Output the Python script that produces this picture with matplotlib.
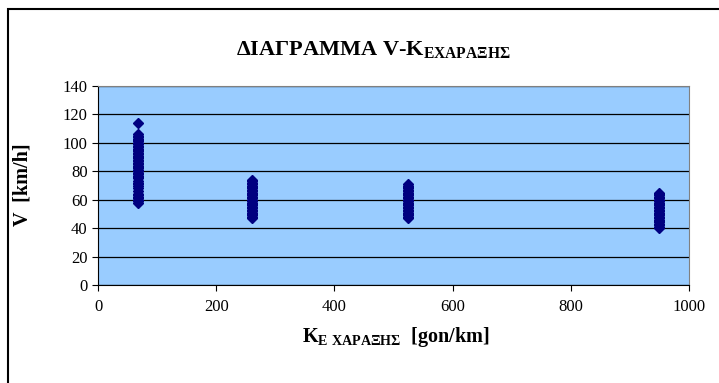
import matplotlib.pyplot as plt
from matplotlib.patches import Rectangle

# K values of the four curve groups and the measured speeds at each
k_vals = [68, 260, 525, 950]
v_k1 = [58, 59, 60, 61, 62, 63, 64, 66, 68, 70, 71, 72, 73, 75, 76, 77, 78, 79, 80,
        81, 82, 83, 84, 85, 86, 87, 88, 89, 90, 91, 92, 93, 94, 95, 96, 97, 98, 99,
        100, 101, 102, 103, 104, 105, 106, 114]
v_k2 = [47, 48, 49, 50, 51, 52, 53, 54, 55, 56, 57, 58, 59, 60, 61, 62, 63, 64, 65,
        66, 67, 68, 69, 70, 71, 72, 73, 74]
v_k3 = [47, 48, 49, 50, 51, 52, 53, 54, 55, 56, 57, 58, 59, 60, 61, 62, 63, 64, 65,
        66, 67, 68, 69, 70, 71]
v_k4 = [40, 41, 42, 43, 44, 45, 46, 47, 48, 49, 50, 51, 52, 53, 54, 55, 56, 57, 58,
        59, 60, 61, 62, 63, 64, 65]
groups = [v_k1, v_k2, v_k3, v_k4]

plt.rcParams['font.family'] = ['Liberation Serif', 'DejaVu Serif']
plt.rcParams['mathtext.fontset'] = 'custom'
plt.rcParams['mathtext.rm'] = 'Liberation Serif:bold'
plt.rcParams['mathtext.it'] = 'Liberation Serif:bold'
plt.rcParams['mathtext.bf'] = 'Liberation Serif:bold'

W, H = 719, 383
fig = plt.figure(figsize=(W / 100, H / 100), dpi=100)
# chart frame, running off the right and bottom edges
fig.patches.append(Rectangle((8 / W, -0.1), 1.2, 1.1 - 9 / H, transform=fig.transFigure,
                             fill=False, edgecolor='black', linewidth=1.5, zorder=0))

ax = fig.add_axes([98 / W, 1 - 285 / H, (689 - 98) / W, (285 - 86) / H])
ax.set_facecolor('#99CCFF')
for k, vs in zip(k_vals, groups):
    ax.plot([k] * len(vs), vs, linestyle='none', marker='D', markersize=5.5,
            color='#000080', markeredgecolor='#000080', zorder=3)

ax.set_xlim(0, 1000)
ax.set_ylim(0, 140)
ax.set_xticks(range(0, 1001, 200))
ax.set_yticks(range(0, 141, 20))
ax.yaxis.grid(True, color='black', linewidth=0.9)
ax.set_axisbelow(True)
for side in ['top', 'right']:
    ax.spines[side].set_color('#808080')
for side in ['left', 'bottom']:
    ax.spines[side].set_color('black')
ax.tick_params(direction='out', length=4, labelsize=12, colors='black', width=0.8)
ax.tick_params(axis='x', pad=6)

fig.text(373 / W, 1 - 50 / H, 'ΔΙΑΓΡΑΜΜΑ V-K$_{ΕΧΑΡΑΞΗΣ}$', ha='center', va='center',
         fontsize=16, fontweight='bold')
fig.text(396 / W, 1 - 337 / H, 'K$_{Ε\\ ΧΑΡΑΞΗΣ}$  [gon/km]', ha='center', va='center',
         fontsize=14.5, fontweight='bold')
fig.text(23 / W, 1 - 185 / H, 'V  [km/h]', ha='center', va='center', rotation=90,
         fontsize=14.5, fontweight='bold')

fig.savefig('out.png', dpi=100)
